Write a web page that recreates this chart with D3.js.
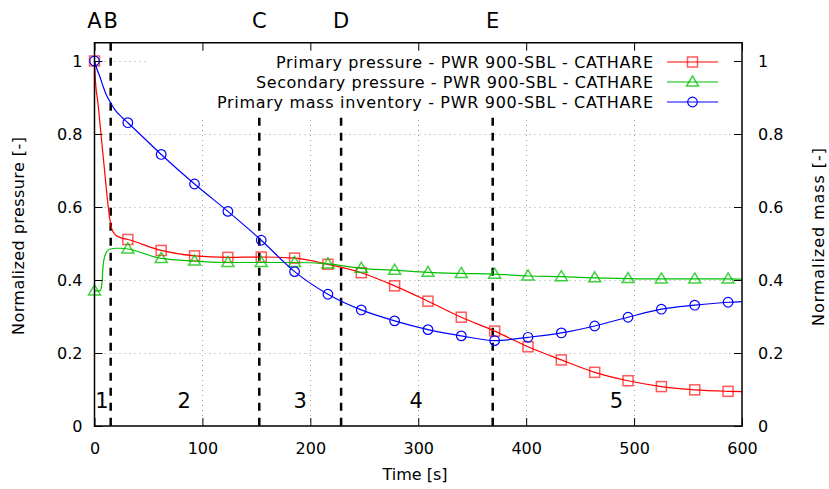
<!DOCTYPE html>
<html>
<head>
<meta charset="utf-8">
<script src="https://cdn.jsdelivr.net/npm/d3@7"></script>
<style>
  html, body { margin: 0; padding: 0; background: #fff; }
  svg { display: block; font-family: "DejaVu Sans", sans-serif; }
</style>
</head>
<body>
<svg id="chart" width="829" height="489"></svg>
<script>
// ---------------- data ----------------
const markerTime = [0, 30.9, 61.8, 92.7, 123.6, 154.5, 185.4, 216.3, 247.2, 278.1, 309, 339.9, 370.8, 401.7, 432.6, 463.5, 494.4, 525.3, 556.2, 587.1];
const primaryPressure   = [1.0, 0.511, 0.481, 0.466, 0.462, 0.463, 0.460, 0.443, 0.420, 0.384, 0.342, 0.298, 0.260, 0.217, 0.181, 0.147, 0.124, 0.108, 0.099, 0.095];
const secondaryPressure = [0.370, 0.485, 0.459, 0.452, 0.448, 0.448, 0.448, 0.444, 0.432, 0.427, 0.421, 0.418, 0.416, 0.411, 0.409, 0.406, 0.404, 0.403, 0.403, 0.403];
const massInventory     = [1.0, 0.831, 0.744, 0.663, 0.588, 0.509, 0.423, 0.361, 0.318, 0.288, 0.264, 0.247, 0.234, 0.243, 0.255, 0.274, 0.298, 0.320, 0.331, 0.339];

// extra (un-marked) samples of the early transient and the final time
const primaryExtraTime   = [1, 3, 6, 9, 12, 14, 16, 19, 24, 600];
const primaryExtra       = [0.94, 0.89, 0.80, 0.71, 0.62, 0.57, 0.54, 0.525, 0.516, 0.094];
const secondaryExtraTime = [5, 6, 7, 8, 9.5, 11.5, 14.5, 20, 25, 600];
const secondaryExtra     = [0.370, 0.375, 0.395, 0.44, 0.465, 0.478, 0.485, 0.487, 0.487, 0.402];
const massExtraTime      = [2, 5, 8, 11, 14.3, 19, 25, 600];
const massExtra          = [0.98, 0.957, 0.93, 0.907, 0.889, 0.866, 0.847, 0.341];

const seriesNames = [
  "Primary pressure - PWR 900-SBL - CATHARE",
  "Secondary pressure - PWR 900-SBL - CATHARE",
  "Primary mass inventory - PWR 900-SBL - CATHARE"
];
const seriesColors = ["#ff0000", "#00c000", "#0000ff"];
const seriesSymbols = ["square", "triangle", "circle"];

const eventTime  = [0, 15, 152.7, 228.5, 369];
const eventLabel = ["A", "B", "C", "D", "E"];
const phaseTime  = [6.8, 83, 190.5, 298, 483.6];
const phaseLabel = ["1", "2", "3", "4", "5"];
const phaseY = 0.07;

const xTicks = [0, 100, 200, 300, 400, 500, 600];
const xTickLabels = ["0", "100", "200", "300", "400", "500", "600"];
const yTicks = [0, 0.2, 0.4, 0.6, 0.8, 1];
const yTickLabels = ["0", "0.2", "0.4", "0.6", "0.8", "1"];

// ---------------- chart ----------------
const svg = d3.select("#chart");
const L = 94.5, R = 742, T = 42.75, B = 426;
const x = d3.scaleLinear().domain([0, 600]).range([L, R]);
const y = d3.scaleLinear().domain([0, 1.05]).range([B, T]);

function merge(mt, mv, et, ev) {
  const pts = mt.map((t, i) => ({t, v: mv[i], m: true}))
    .concat(et.map((t, i) => ({t, v: ev[i], m: false})));
  pts.sort((a, b) => a.t - b.t);
  return pts;
}
const series = [
  merge(markerTime, primaryPressure, primaryExtraTime, primaryExtra),
  merge(markerTime, secondaryPressure, secondaryExtraTime, secondaryExtra),
  merge(markerTime, massInventory, massExtraTime, massExtra)
];

// grid
const grid = svg.append("g").attr("stroke", "#a0a0a0").attr("stroke-width", 1).attr("stroke-dasharray", "1,4");
grid.selectAll("line.gx").data(xTicks.filter(d => d > 0 && d < 600)).join("line")
  .attr("x1", d => Math.round(x(d)) + 0.5).attr("x2", d => Math.round(x(d)) + 0.5)
  .attr("y1", B).attr("y2", T);
grid.selectAll("line.gy").data(yTicks.filter(d => d > 0)).join("line")
  .attr("y1", d => Math.round(y(d)) + 0.5).attr("y2", d => Math.round(y(d)) + 0.5)
  .attr("x1", L).attr("x2", R);

// event dashed lines
svg.append("g").selectAll("line").data(eventTime.filter(d => d > 0)).join("line")
  .attr("x1", d => x(d)).attr("x2", d => x(d))
  .attr("y1", T).attr("y2", B)
  .attr("stroke", "#000").attr("stroke-width", 2.5).attr("stroke-dasharray", "8,7");

// legend background
svg.append("rect").attr("x", 148).attr("y", T).attr("width", R - 148).attr("height", 117 - T).attr("fill", "#fff");

// symbols
function drawSymbol(g, kind, cx, cy, color) {
  if (kind === "square") {
    g.append("rect").attr("x", cx - 5).attr("y", cy - 5).attr("width", 10).attr("height", 10)
      .attr("fill", "none").attr("stroke", color).attr("stroke-width", 1.5).attr("stroke-opacity", 0.65);
  } else if (kind === "triangle") {
    g.append("path").attr("d", `M${cx},${cy - 6}L${cx + 6},${cy + 4}L${cx - 6},${cy + 4}Z`)
      .attr("fill", "none").attr("stroke", color).attr("stroke-width", 1.5).attr("stroke-opacity", 0.75);
  } else {
    g.append("circle").attr("cx", cx).attr("cy", cy).attr("r", 4.8)
      .attr("fill", "none").attr("stroke", color).attr("stroke-width", 1.2);
  }
}

// data lines + markers
const line = d3.line().x(d => x(d.t)).y(d => y(d.v)).curve(d3.curveMonotoneX);
series.forEach((s, i) => {
  const g = svg.append("g");
  g.append("path").attr("d", line(s)).attr("fill", "none")
    .attr("stroke", seriesColors[i]).attr("stroke-width", 1.2);
  s.filter(d => d.m).forEach(d => drawSymbol(g, seriesSymbols[i], x(d.t), y(d.v), seriesColors[i]));
});

// legend
const legendRowY = [62, 82, 102];
const legendTextWidth = [377, 397, 436];
seriesNames.forEach((name, i) => {
  const g = svg.append("g");
  g.append("text").attr("x", 653).attr("y", legendRowY[i]).attr("dy", "0.35em")
    .attr("text-anchor", "end").attr("font-size", 16).attr("fill", "#000")
    .attr("textLength", legendTextWidth[i]).attr("lengthAdjust", "spacing").text(name);
  g.append("line").attr("x1", 667).attr("x2", 718).attr("y1", legendRowY[i]).attr("y2", legendRowY[i])
    .attr("stroke", seriesColors[i]).attr("stroke-width", 1.2);
  drawSymbol(g, seriesSymbols[i], 692.5, legendRowY[i], seriesColors[i]);
});

// frame
svg.append("rect").attr("x", L).attr("y", T).attr("width", R - L).attr("height", B - T)
  .attr("fill", "none").attr("stroke", "#000").attr("stroke-width", 1.5);

// axes
function styleAxis(g) {
  g.select(".domain").remove();
  g.selectAll(".tick line").attr("stroke", "#000").attr("stroke-width", 1);
  g.selectAll(".tick text").attr("font-size", 16).attr("fill", "#000").attr("font-family", "DejaVu Sans, sans-serif");
}
svg.append("g").attr("transform", `translate(0,${B})`)
  .call(d3.axisBottom(x).tickValues(xTicks).tickFormat((d, i) => xTickLabels[i]).tickSize(-8).tickPadding(17))
  .call(styleAxis);
svg.append("g").attr("transform", `translate(0,${T})`)
  .call(d3.axisTop(x).tickValues(xTicks).tickFormat("").tickSize(-8))
  .call(styleAxis);
svg.append("g").attr("transform", `translate(${L},0)`)
  .call(d3.axisLeft(y).tickValues(yTicks).tickFormat((d, i) => yTickLabels[i]).tickSize(-8).tickPadding(12))
  .call(styleAxis);
svg.append("g").attr("transform", `translate(${R},0)`)
  .call(d3.axisRight(y).tickValues(yTicks).tickFormat((d, i) => yTickLabels[i]).tickSize(-8).tickPadding(16))
  .call(styleAxis);

// event labels (top)
svg.append("g").selectAll("text").data(eventTime).join("text")
  .attr("x", d => x(d)).attr("y", 20).attr("dy", "0.36em")
  .attr("text-anchor", "middle").attr("font-size", 21).attr("fill", "#000")
  .text((d, i) => eventLabel[i]);

// phase labels
svg.append("g").selectAll("text").data(phaseTime).join("text")
  .attr("x", d => x(d)).attr("y", y(phaseY)).attr("dy", "0.36em")
  .attr("text-anchor", "middle").attr("font-size", 21).attr("fill", "#000")
  .text((d, i) => phaseLabel[i]);

// axis titles
svg.append("text").attr("x", 415).attr("y", 474).attr("dy", "0.35em")
  .attr("text-anchor", "middle").attr("font-size", 16).text("Time [s]");
svg.append("text").attr("transform", "translate(18,236) rotate(-90)").attr("dy", "0.35em")
  .attr("text-anchor", "middle").attr("font-size", 16)
  .attr("textLength", 198).attr("lengthAdjust", "spacing").text("Normalized pressure [-]");
svg.append("text").attr("transform", "translate(818,237) rotate(-90)").attr("dy", "0.35em")
  .attr("text-anchor", "middle").attr("font-size", 16)
  .attr("textLength", 178).attr("lengthAdjust", "spacing").text("Normalized mass [-]");
</script>
</body>
</html>
